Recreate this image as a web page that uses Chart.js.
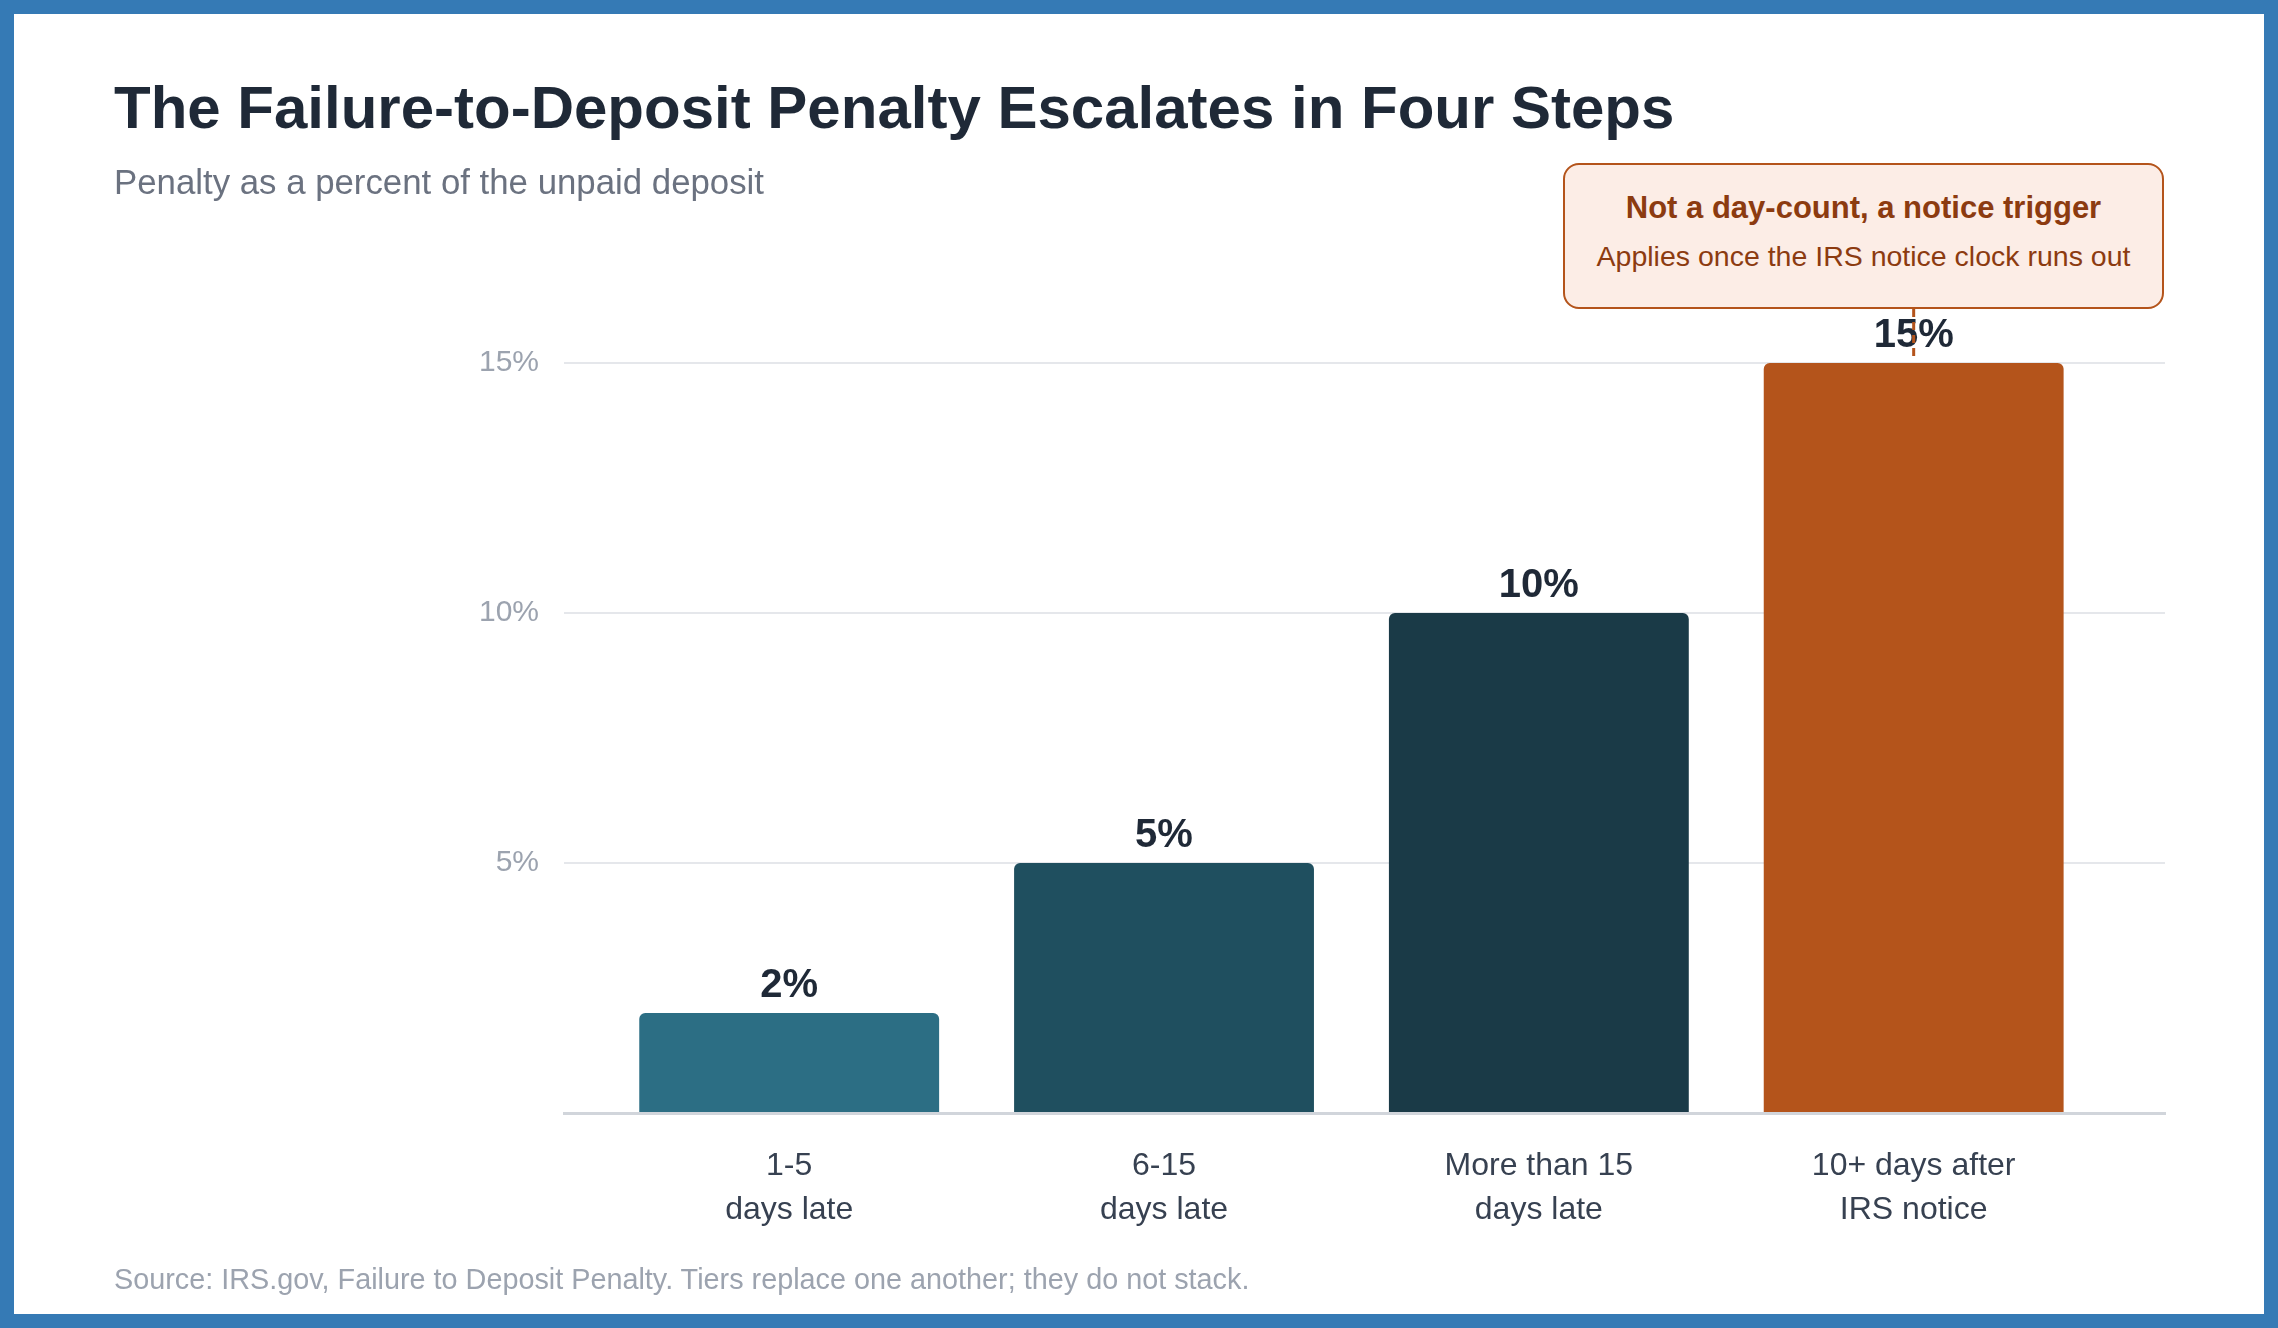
<!DOCTYPE html>
<html>
<head>
<meta charset="utf-8">
<script src="https://cdn.jsdelivr.net/npm/chart.js@4.4.1/dist/chart.umd.min.js"></script>
<style>
  html, body { margin: 0; padding: 0; }
  body { width: 2278px; height: 1328px; position: relative; overflow: hidden; background: #fff;
         font-family: "Liberation Sans", Arial, Helvetica, sans-serif; }
  #frame { position: absolute; left: 0; top: 0; width: 2278px; height: 1328px; box-sizing: border-box;
           border: 14px solid #357ab5; }
  #chart { position: absolute; left: 0; top: 0; width: 2278px; height: 1328px; }
  .title { position: absolute; left: 114px; top: 73px; font-size: 60px; font-weight: bold; color: #1f2937; white-space: nowrap; }
  .subtitle { position: absolute; left: 114px; top: 162px; font-size: 34.8px; color: #6b7280; white-space: nowrap; }
  .footer { position: absolute; left: 114px; top: 1263px; font-size: 28.8px; color: #9ca3af; white-space: nowrap; }
  .note { position: absolute; left: 1563px; top: 163px; width: 601px; height: 146px; box-sizing: border-box;
          border: 2.5px solid #b4541b; border-radius: 16px; background: #fcede6; text-align: center; color: #8c3b10; }
  .note .h { font-size: 31px; font-weight: bold; margin-top: 25px; line-height: 36px; }
  .note .s { font-size: 28.5px; margin-top: 13px; line-height: 34px; }
</style>
</head>
<body>
<canvas id="chart" width="2278" height="1328"></canvas>
<div id="frame"></div>
<div class="title">The Failure-to-Deposit Penalty Escalates in Four Steps</div>
<div class="subtitle">Penalty as a percent of the unpaid deposit</div>
<div class="note"><div class="h">Not a day-count, a notice trigger</div><div class="s">Applies once the IRS notice clock runs out</div></div>
<div class="footer">Source: IRS.gov, Failure to Deposit Penalty. Tiers replace one another; they do not stack.</div>
<script>
const categories = [["1-5", "days late"], ["6-15", "days late"], ["More than 15", "days late"], ["10+ days after", "IRS notice"]];
const penaltyPct = [2, 5, 10, 15];
const barColors = ["#2c6e84", "#1f4f5f", "#1a3a47", "#b4541b"];
const yTicks = [0, 5, 10, 15];
const highlightIndex = 3;

const valueLabels = {
  id: "valueLabels",
  afterDatasetsDraw(chart) {
    const ctx = chart.ctx;
    const meta = chart.getDatasetMeta(0);
    ctx.save();
    ctx.font = "bold 40px 'Liberation Sans', Arial, sans-serif";
    ctx.fillStyle = "#1f2937";
    ctx.textAlign = "center";
    ctx.textBaseline = "alphabetic";
    meta.data.forEach((bar, i) => {
      ctx.fillText(penaltyPct[i] + "%", bar.x, bar.y - 16);
    });
    // dashed connector from annotation box to highlighted bar
    const hb = meta.data[highlightIndex];
    ctx.strokeStyle = "#b4541b";
    ctx.lineWidth = 3;
    ctx.setLineDash([8, 5]);
    ctx.beginPath();
    ctx.moveTo(hb.x, 309);
    ctx.lineTo(hb.x, hb.y - 2);
    ctx.stroke();
    ctx.restore();
  }
};

new Chart(document.getElementById("chart"), {
  type: "bar",
  data: {
    labels: categories,
    datasets: [{
      data: penaltyPct,
      backgroundColor: barColors,
      borderRadius: 6,
      borderSkipped: "bottom",
      barPercentage: 0.8,
      categoryPercentage: 1.0
    }]
  },
  options: {
    responsive: false,
    animation: false,
    devicePixelRatio: 1,
    layout: { padding: { left: 400, top: 363, right: 113, bottom: 95 } },
    plugins: { legend: { display: false }, tooltip: { enabled: false }, title: { display: false } },
    scales: {
      x: {
        grid: { display: false, drawTicks: false },
        border: { display: true, color: "#d1d5db", width: 3 },
        ticks: {
          padding: 31,
          color: "#374151",
          font: { family: "'Liberation Sans', Arial, sans-serif", size: 32, lineHeight: 1.37 }
        },
        afterBuildTicks(scale) {
          // extra side margin inside the plot: categories spaced narrower than the gridlines
          scale._startValue = -0.6008;
          scale._valueRange = 4.2713;
        },
        afterFit(scale) { scale.height = 120; }
      },
      y: {
        min: 0, max: 15,
        afterBuildTicks(scale) { scale.ticks = yTicks.map(v => ({ value: v })); },
        grid: { color: "#e5e7eb", lineWidth: 2, drawTicks: false },
        border: { display: false },
        ticks: {
          padding: 25,
          color: "#9ca3af",
          font: { family: "'Liberation Sans', Arial, sans-serif", size: 30 },
          callback: v => v === 0 ? "" : v + "%"
        },
        afterFit(scale) { scale.width = 164; }
      }
    }
  },
  plugins: [valueLabels]
});
</script>
</body>
</html>
